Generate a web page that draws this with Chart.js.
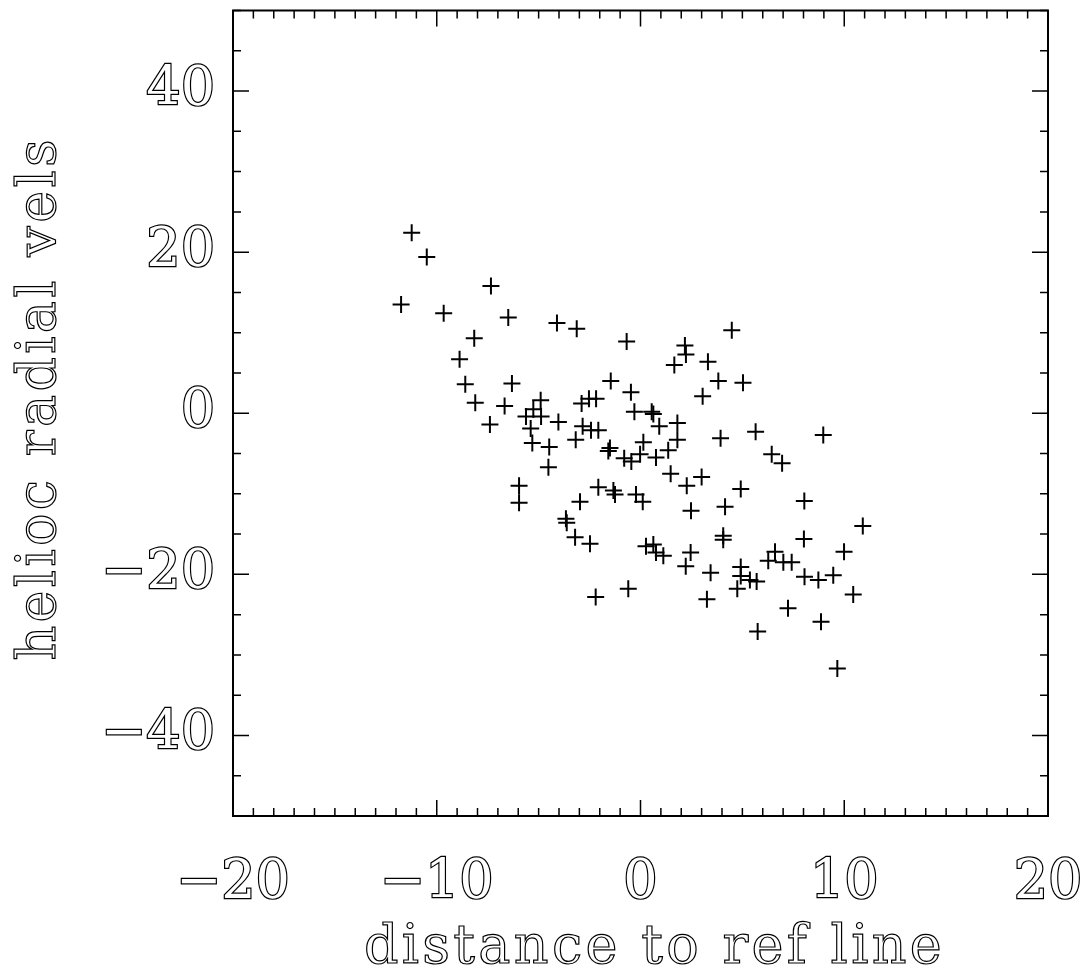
<!DOCTYPE html>
<html>
<head>
<meta charset="utf-8">
<script src="https://cdn.jsdelivr.net/npm/chart.js@4.4.1/dist/chart.umd.min.js"></script>
<style>
  html, body { margin: 0; padding: 0; background: #fff; }
  canvas { display: block; }
</style>
</head>
<body>
<canvas id="velChart" width="1089" height="974"></canvas>
<script>
// distance to ref line (x) and helioc radial vels (y)
const distances = [
  -11.23, -10.49, -7.34, -11.75, -9.66, -6.49, -4.10, -3.13, -8.16, -8.88,
  -8.60, -6.31, -1.46, -8.11, -6.67, -7.39, -4.90, -5.26, -5.62, -4.88,
  -5.39, -5.31, -4.48, -4.03, -2.89, -2.53, -2.18, -2.84, -2.43, -2.07,
  -3.18, -1.50, -1.58, -4.52, -5.96, -5.96, -2.07, -2.97, -3.66, -3.62,
  -3.21, -2.48, -2.20, 4.48, -0.68, 2.18, 2.23, 1.66, 3.31, 3.82,
  5.03, 3.05, -0.47, -0.30, 0.55, 0.63, 0.92, 1.81, 1.81, 0.14,
  3.93, 5.65, 6.44, 6.95, 1.36, -0.02, 0.76, -0.80, -0.45, 1.48,
  3.00, 2.27, 4.92, -1.33, -1.25, -0.22, 0.11, 8.04, 2.48, 4.15,
  4.06, 4.06, 8.02, 0.27, 0.63, 0.76, 1.12, 2.46, 2.22, 3.44,
  4.92, 4.92, 5.37, 5.70, 4.75, 6.27, 6.60, 7.01, 7.42, 8.05,
  -0.60, 3.26, 7.24, 5.75, 8.97, 10.91, 9.99, 8.73, 9.46, 10.44,
  8.86, 9.66
];
const velocities = [
  22.4, 19.4, 15.8, 13.5, 12.4, 11.9, 11.2, 10.5, 9.3, 6.7,
  3.6, 3.7, 4.0, 1.3, 0.9, -1.4, 1.6, 0.5, -0.4, -0.4,
  -1.9, -3.7, -4.2, -1.1, 1.2, 1.8, 1.8, -1.6, -2.1, -2.1,
  -3.3, -4.3, -4.7, -6.7, -9.0, -11.1, -9.2, -11.0, -13.1, -13.6,
  -15.4, -16.2, -22.8, 10.3, 8.9, 8.4, 7.3, 6.0, 6.4, 4.0,
  3.8, 2.1, 2.6, 0.2, 0.2, -0.1, -1.6, -1.2, -3.3, -3.6,
  -3.1, -2.3, -5.1, -6.2, -4.6, -5.1, -5.5, -5.6, -6.0, -7.5,
  -7.9, -9.0, -9.4, -9.6, -10.1, -10.1, -11.0, -10.9, -12.1, -11.6,
  -15.2, -15.7, -15.6, -16.5, -16.3, -17.3, -17.7, -17.3, -19.0, -19.8,
  -19.1, -20.2, -20.7, -20.9, -21.8, -18.3, -17.2, -18.5, -18.5, -20.3,
  -21.8, -23.1, -24.2, -27.1, -2.7, -14.0, -17.2, -20.7, -20.1, -22.5,
  -25.9, -31.7
];

const xTickLabels = [-20, -10, 0, 10, 20];
const yTickLabels = [-40, -20, 0, 20, 40];
const xTitle = 'distance to ref line';
const yTitle = 'helioc radial vels';

const serif = '"DejaVu Serif", "Liberation Serif", serif';
const fmt = v => (v < 0 ? '\u2212' + Math.abs(v) : String(v));
const noPad = s => { s.paddingLeft = s.paddingRight = s.paddingTop = s.paddingBottom = 0; };

// frame, inward ticks on all four sides, and outlined axis titles
const framePlugin = {
  id: 'frame',
  afterDraw(chart) {
    const { ctx, chartArea: a, scales } = chart;
    const xs = scales.x, ys = scales.y;
    ctx.save();
    ctx.strokeStyle = '#000';
    ctx.lineWidth = 2;
    ctx.strokeRect(a.left, a.top, a.right - a.left, a.bottom - a.top);

    ctx.lineWidth = 1.5;
    ctx.beginPath();
    for (let v = xs.min; v <= xs.max; v += 1) {
      const px = xs.getPixelForValue(v);
      const len = v % 10 === 0 ? 16 : 8;
      ctx.moveTo(px, a.bottom); ctx.lineTo(px, a.bottom - len);
      ctx.moveTo(px, a.top); ctx.lineTo(px, a.top + len);
    }
    for (let v = ys.min; v <= ys.max; v += 5) {
      const py = ys.getPixelForValue(v);
      const len = v % 20 === 0 ? 16 : 8;
      ctx.moveTo(a.left, py); ctx.lineTo(a.left + len, py);
      ctx.moveTo(a.right, py); ctx.lineTo(a.right - len, py);
    }
    ctx.stroke();

    ctx.font = '54px ' + serif;
    ctx.letterSpacing = '3.3px';
    ctx.textAlign = 'center';
    ctx.textBaseline = 'alphabetic';
    ctx.fillStyle = '#fff';
    ctx.lineWidth = 1.2;

    const cx = (a.left + a.right) / 2 + 14;
    ctx.fillText(xTitle, cx, 963);
    ctx.strokeText(xTitle, cx, 963);

    ctx.translate(55, (a.top + a.bottom) / 2 - 15);
    ctx.rotate(-Math.PI / 2);
    ctx.fillText(yTitle, 0, 0);
    ctx.strokeText(yTitle, 0, 0);
    ctx.restore();
  }
};

new Chart(document.getElementById('velChart'), {
  type: 'scatter',
  data: {
    datasets: [{
      data: distances.map((d, i) => ({ x: d, y: velocities[i] })),
      pointStyle: 'cross',
      pointRadius: 8.5,
      pointHoverRadius: 8.5,
      borderColor: '#000',
      borderWidth: 2
    }]
  },
  options: {
    responsive: false,
    animation: false,
    events: [],
    layout: { padding: { top: 4, right: 41, left: 0, bottom: 0 } },
    plugins: { legend: { display: false }, tooltip: { enabled: false } },
    scales: {
      x: {
        type: 'linear',
        min: -20,
        max: 20,
        grid: { display: false },
        border: { display: false },
        afterBuildTicks: s => { s.ticks = xTickLabels.map(v => ({ value: v })); },
        afterFit: s => { s.height = 158; noPad(s); },
        ticks: {
          padding: 28,
          maxRotation: 0,
          autoSkip: false,
          color: '#fff',
          textStrokeColor: '#000',
          textStrokeWidth: 2.4,
          font: { family: serif, size: 54 },
          callback: fmt
        }
      },
      y: {
        type: 'linear',
        min: -50,
        max: 50,
        grid: { display: false },
        border: { display: false },
        afterBuildTicks: s => { s.ticks = yTickLabels.map(v => ({ value: v })); },
        afterFit: s => { s.width = 233; noPad(s); },
        ticks: {
          padding: 10,
          autoSkip: false,
          color: '#fff',
          textStrokeColor: '#000',
          textStrokeWidth: 2.4,
          font: { family: serif, size: 54 },
          callback: fmt
        }
      }
    }
  },
  plugins: [framePlugin]
});
</script>
</body>
</html>
